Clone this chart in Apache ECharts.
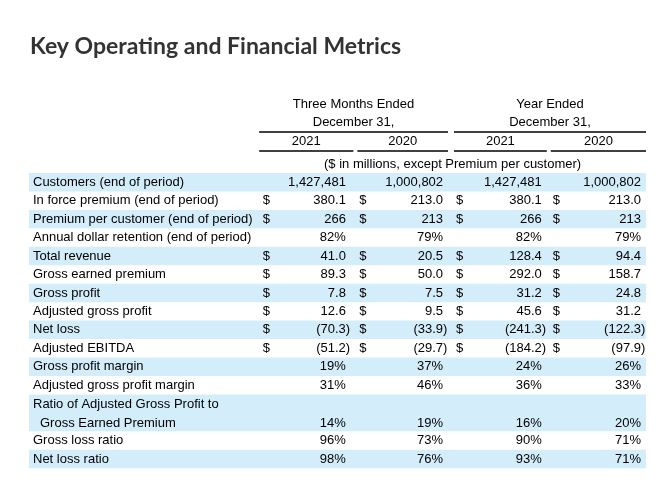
<!DOCTYPE html>
<html>
<head>
<meta charset="utf-8">
<script src="https://cdn.jsdelivr.net/npm/echarts@6/dist/echarts.min.js"></script>
<style>
html,body{margin:0;padding:0;background:#ffffff;}
#chart{width:661px;height:500px;}
</style>
</head>
<body>
<div id="chart"></div>
<script>
// ---------------- data ----------------
const titleText = 'Key Operating and Financial Metrics';
const periodHeaders = [['Three Months Ended', 'December 31,'], ['Year Ended', 'December 31,']];
const yearLabels = ['2021', '2020', '2021', '2020'];
const unitNote = '($ in millions, except Premium per customer)';
const metricLabels = [
  ['Customers (end of period)'],
  ['In force premium (end of period)'],
  ['Premium per customer (end of period)'],
  ['Annual dollar retention (end of period)'],
  ['Total revenue'],
  ['Gross earned premium'],
  ['Gross profit'],
  ['Adjusted gross profit'],
  ['Net loss'],
  ['Adjusted EBITDA'],
  ['Gross profit margin'],
  ['Adjusted gross profit margin'],
  ['Ratio of Adjusted Gross Profit to', 'Gross Earned Premium'],
  ['Gross loss ratio'],
  ['Net loss ratio']
];
const valueFormats = ['count', 'usd1', 'usd0', 'pct', 'usd1', 'usd1', 'usd1', 'usd1', 'usd1', 'usd1', 'pct', 'pct', 'pct', 'pct', 'pct'];
const threeMonths2021 = [1427481, 380.1, 266, 82, 41.0, 89.3, 7.8, 12.6, -70.3, -51.2, 19, 31, 14, 96, 98];
const threeMonths2020 = [1000802, 213.0, 213, 79, 20.5, 50.0, 7.5, 9.5, -33.9, -29.7, 37, 46, 19, 73, 76];
const yearEnded2021 = [1427481, 380.1, 266, 82, 128.4, 292.0, 31.2, 45.6, -241.3, -184.2, 24, 36, 16, 90, 93];
const yearEnded2020 = [1000802, 213.0, 213, 79, 94.4, 158.7, 24.8, 31.2, -122.3, -97.9, 26, 33, 20, 71, 71];

// ---------------- helpers ----------------
const columns = [threeMonths2021, threeMonths2020, yearEnded2021, yearEnded2020];
const FONT = '"Liberation Sans", Arial, Helvetica, sans-serif';
const FS = 13;
const TXT = '#000000';
const BAND = '#d4edfb';
const X_MIN = -2.38, X_MAX = 4;

function groupDigits(s) {
  return s.replace(/\B(?=(\d{3})+(?!\d))/g, ',');
}
function formatValue(v, fmt) {
  let s;
  const a = Math.abs(v);
  if (fmt === 'count') s = groupDigits(String(Math.round(a)));
  else if (fmt === 'usd1') s = a.toFixed(1);
  else if (fmt === 'usd0') s = a.toFixed(0);
  else s = a.toFixed(0) + '%';
  return v < 0 ? '(' + s + ')' : s;
}

// row start positions in "line" units (cumulative from label line counts)
const rowStarts = [];
(function () {
  let acc = 0;
  metricLabels.forEach(function (l) { rowStarts.push(acc); acc += l.length; });
})();
const totalLines = rowStarts[rowStarts.length - 1] + metricLabels[metricLabels.length - 1].length;

const rowData = metricLabels.map(function (l, i) { return [rowStarts[i], l.length]; });

function txt(x, y, text, align, extra) {
  return {
    type: 'text',
    x: x, y: y,
    style: Object.assign({
      text: text,
      fill: TXT,
      font: FS + 'px ' + FONT,
      align: align,
      verticalAlign: 'middle'
    }, extra || {})
  };
}

const valuePad = [10, 9.5, 7.5, 5];
const parenW = 4.3;

function renderRow(params, api) {
  const i = params.dataIndex;
  const start = api.value(0);
  const lines = api.value(1);
  const tl = api.coord([X_MIN, start]);
  const br = api.coord([X_MAX, start + lines]);
  const lineH = (br[1] - tl[1]) / lines;
  const children = [];
  if (i % 2 === 0) {
    children.push({
      type: 'rect',
      shape: { x: tl[0], y: tl[1], width: br[0] - tl[0], height: br[1] - tl[1] },
      style: { fill: BAND }
    });
  }
  const labels = metricLabels[i];
  labels.forEach(function (t, k) {
    const yc = tl[1] + lineH * (k + 0.5) + (lines > 1 ? 1 : 0);
    children.push(txt(tl[0] + 4 + (k > 0 ? 7 : 0), yc, t, 'left'));
  });
  const yv = tl[1] + lineH * (lines - 0.5) + (lines > 1 ? 1 : 0);
  const fmt = valueFormats[i];
  columns.forEach(function (col, g) {
    const gx0 = api.coord([g, start])[0];
    const gx1 = api.coord([g + 1, start])[0];
    if (fmt.indexOf('usd') === 0) {
      children.push(txt(gx0 + 3.5, yv, '$', 'left'));
    }
    const v = col[i];
    const rx = gx1 - valuePad[g] + (v < 0 ? parenW : 0);
    children.push(txt(rx, yv, formatValue(v, fmt), 'right'));
  });
  return { type: 'group', children: children };
}

function renderHeader(params, api) {
  const children = [];
  const U = function (yUnits) { return api.coord([0, yUnits])[1]; };
  const X = function (xv) { return api.coord([xv, 0])[0]; };
  // period header spans
  const spans = [[X(0), X(2) - 4.6], [X(2) + 1.4, X(4)]];
  spans.forEach(function (sp, p) {
    const cx = (sp[0] + sp[1]) / 2;
    children.push(txt(cx, U(-3.74), periodHeaders[p][0], 'center'));
    children.push(txt(cx, U(-2.76), periodHeaders[p][1], 'center'));
    children.push({ type: 'line', shape: { x1: sp[0], y1: U(-2.22), x2: sp[1], y2: U(-2.22) }, style: { stroke: '#000', lineWidth: 1.6 } });
  });
  // year columns
  yearLabels.forEach(function (y, g) {
    const a = X(g) + (g > 0 ? (g === 2 ? 1.4 : 1.5) : 0);
    const b = X(g + 1) - (g < 3 ? (g === 1 ? 4.6 : 2.5) : 0);
    children.push(txt((a + b) / 2, U(-1.70), y, 'center'));
    children.push({ type: 'line', shape: { x1: a, y1: U(-1.19), x2: b, y2: U(-1.19) }, style: { stroke: '#000', lineWidth: 1.6 } });
  });
  children.push(txt(X(2), U(-0.49), unitNote, 'center'));
  return { type: 'group', children: children };
}

const chart = echarts.init(document.getElementById('chart'), null, { renderer: 'canvas' });
chart.setOption({
  animation: false,
  backgroundColor: '#ffffff',
  title: {
    text: titleText,
    left: 30,
    top: 35,
    padding: 0,
    textStyle: { fontFamily: 'Lato', fontWeight: 'bold', fontSize: 23, color: '#333333' }
  },
  grid: { left: 29, right: 15, top: 94.6, bottom: 31.8 },
  xAxis: { type: 'value', min: X_MIN, max: X_MAX, show: false },
  yAxis: { type: 'value', min: -4.25, max: totalLines, inverse: true, show: false },
  series: [
    {
      type: 'custom',
      silent: true,
      renderItem: renderRow,
      encode: { x: -1, y: 0 },
      data: rowData
    },
    {
      type: 'custom',
      silent: true,
      renderItem: renderHeader,
      encode: { x: -1, y: 0 },
      data: [[0]]
    }
  ]
});
</script>
</body>
</html>
